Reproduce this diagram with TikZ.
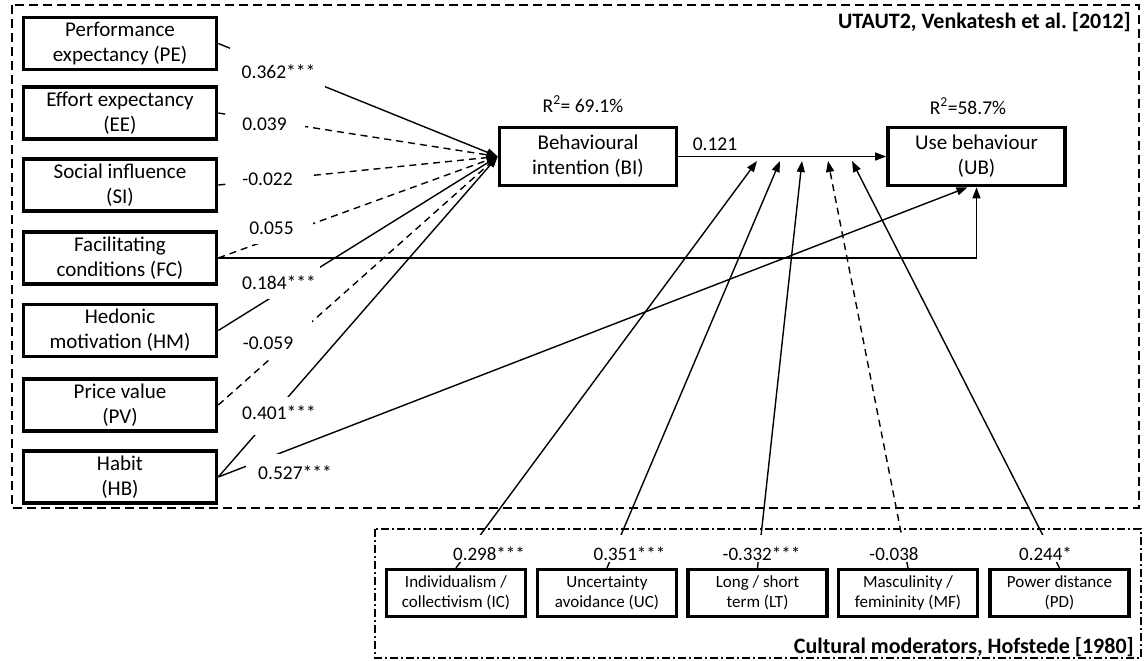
\documentclass[tikz,border=0pt]{standalone}
\usepackage{fontspec}
\setmainfont{Carlito}
\usetikzlibrary{arrows.meta,calc}

\begin{document}
\begin{tikzpicture}[x=1pt,y=-1pt,
  cbox/.style={draw, line width=3.6pt, minimum width=193pt, minimum height=52pt,
    align=center, inner sep=0pt, font=\fontsize{21}{25}\selectfont},
  bigbox/.style={cbox, minimum width=177pt, minimum height=58pt},
  mbox/.style={draw, line width=3.2pt, minimum width=139pt, minimum height=47pt,
    align=center, inner sep=0pt, font=\fontsize{17}{20}\selectfont},
  conn/.style={line width=1.4pt, -{Triangle[length=11pt,width=8pt]}},
  dsh/.style={dash pattern=on 7pt off 5pt},
  mask/.style={fill=white},
  coef/.style={inner sep=0pt, font=\fontsize{19.5}{22}\selectfont},
  mcoef/.style={inner sep=0pt, font=\fontsize{19}{22}\selectfont},
  ttl/.style={inner sep=0pt, font=\fontsize{22}{26}\selectfont\bfseries},
  groupA/.style={line width=1.4pt, dash pattern=on 9pt off 5pt},
  groupB/.style={line width=1.4pt, dash pattern=on 8pt off 3pt on 2pt off 3pt}]

\useasboundingbox (0,0) rectangle (1144,661);

% group frames
\draw[groupA] (12,5) rectangle (1139,508);
\draw[groupB] (375,529) rectangle (1141,658);
\node[ttl, anchor=base east] (tA) at (1131,29) {UTAUT2, Venkatesh et al.\ [2012]};
\node[ttl, anchor=base east] (tB) at (1134,653) {Cultural moderators, Hofstede [1980]};

% UTAUT2 constructs
\node[cbox] (PE) at (120,43.5)  {Performance\\expectancy (PE)};
\node[cbox] (EE) at (120,113)   {Effort expectancy\\(EE)};
\node[cbox] (SI) at (120,185)   {Social influence\\(SI)};
\node[cbox] (FC) at (120,258)   {Facilitating\\conditions (FC)};
\node[cbox] (HM) at (120,330.5) {Hedonic\\motivation (HM)};
\node[cbox] (PV) at (120,405)   {Price value\\(PV)};
\node[cbox] (HB) at (120,477)   {Habit\\(HB)};

\node[bigbox] (BI) at (588,156.5)   {Behavioural\\intention (BI)};
\node[bigbox] (UB) at (976.5,156.5) {Use behaviour\\(UB)};

% cultural moderators
\node[mbox] (IC) at (456,593)    {Individualism /\\collectivism (IC)};
\node[mbox] (UC) at (607,593)    {Uncertainty\\avoidance (UC)};
\node[mbox] (LT) at (757.5,593)  {Long / short\\term (LT)};
\node[mbox] (MF) at (908,593)    {Masculinity /\\femininity (MF)};
\node[mbox] (PD) at (1059.5,593) {Power distance\\(PD)};

% moderation points on the BI -> UB path
\coordinate (tIC) at (757,161);
\coordinate (tUC) at (780,161);
\coordinate (tLT) at (802,161);
\coordinate (tMF) at (828,161);
\coordinate (tPD) at (852,161);

% paths to BI
\draw[conn] (PE.east) -- (BI.west);
\draw[conn,dsh] (EE.east) -- (BI.west);
\draw[conn,dsh] (SI.east) -- (BI.west);
\draw[conn,dsh] (FC.east) -- (BI.west);
\draw[conn] (HM.east) -- (BI.west);
\draw[conn,dsh] (PV.east) -- (BI.west);
\draw[conn] (HB.east) -- (BI.west);

% paths to UB
\draw[conn] (BI.east) -- (UB.west);
\draw[conn] (FC.east) -| (UB.south);
\draw[conn] (HB.east) -- ($(UB.south)+(-9,0)$);

% moderating effects
\draw[conn] (IC.north) -- (tIC);
\draw[conn] (UC.north) -- (tUC);
\draw[conn] (LT.north) -- (tLT);
\draw[conn,dsh] (MF.north) -- (tMF);
\draw[conn] (PD.north) -- (tPD);

% white backgrounds behind the coefficients
\fill[mask] (230,46) rectangle (325,90);
\fill[mask] (230,110) rectangle (305,136);
\fill[mask] (230,168) rectangle (312,191);
\fill[mask] (240,216) rectangle (313,244);
\fill[mask] (240,263) rectangle (320,299);
\fill[mask] (240,318) rectangle (312,359);
\fill[mask] (240,397) rectangle (318,434.5);
\fill[mask] (246,454) rectangle (335,490);
\fill[mask] (450,535) rectangle (528,562);
\fill[mask] (590,535) rectangle (668,562);
\fill[mask] (720,535) rectangle (803,562);
\fill[mask] (866,535) rectangle (922,562);
\fill[mask] (1016,535) rectangle (1075,562);

% path coefficients
\node[coef] (cPE) at (278.5,72)  {0.362***};
\node[coef] (cEE) at (264.5,124) {0.039};
\node[coef] (cSI) at (267.5,179) {-0.022};
\node[coef] (cFC) at (271.5,228) {0.055};
\node[coef] (cHM) at (279,283)   {0.184***};
\node[coef] (cPV) at (268,343)   {-0.059};
\node[coef] (cHBI) at (279,413)  {0.401***};
\node[coef] (cHUB) at (295,473)  {0.527***};
\node[coef] (cBU) at (715,144)   {0.121};

\node[coef] (rBI) at (583,104) {R\textsuperscript{2}= 69.1\%};
\node[coef] (rUB) at (968,106) {R\textsuperscript{2}=58.7\%};

\node[mcoef] (cIC) at (489,554)    {0.298***};
\node[mcoef] (cUC) at (629.5,554)  {0.351***};
\node[mcoef] (cLT) at (761.5,554)  {-0.332***};
\node[mcoef] (cMF) at (894,554)    {-0.038};
\node[mcoef] (cPD) at (1045.5,554) {0.244*};

\end{tikzpicture}
\end{document}
